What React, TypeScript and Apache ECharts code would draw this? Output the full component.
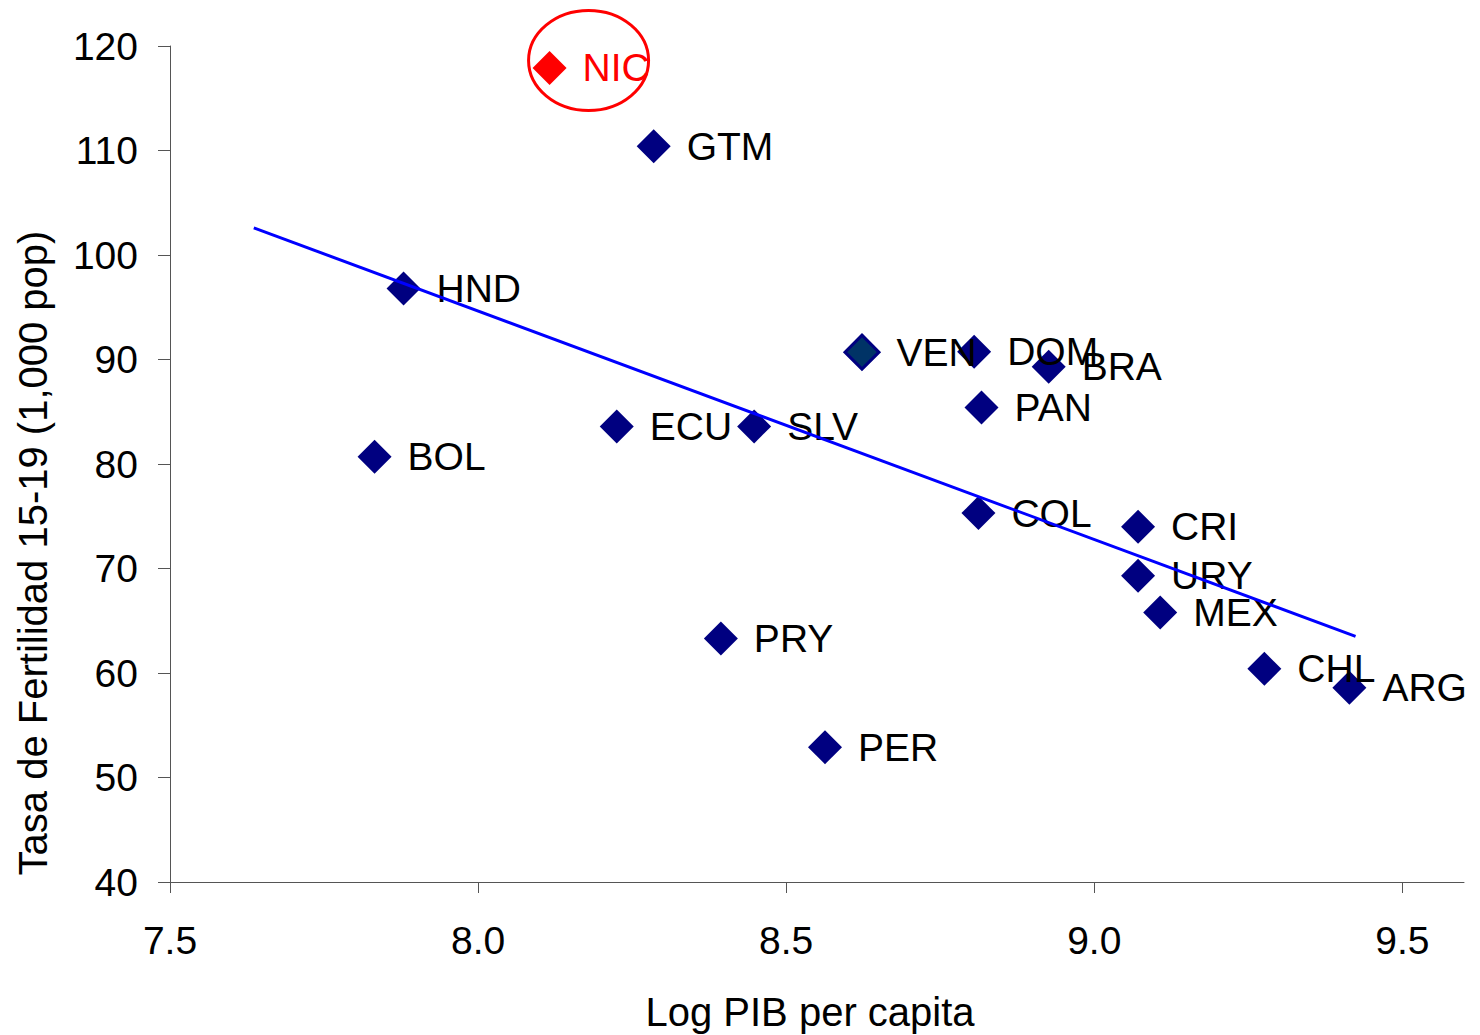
import React, { useEffect, useRef } from "react";
import * as echarts from "echarts";

const countries = ["NIC", "GTM", "HND", "BOL", "ECU", "SLV", "VEN", "DOM", "BRA", "PAN", "COL", "CRI", "URY", "MEX", "PRY", "CHL", "ARG", "PER"];
const logGdp = [8.116, 8.285, 7.879, 7.832, 8.225, 8.448, 8.623, 8.805, 8.926, 8.817, 8.812, 9.071, 9.071, 9.107, 8.394, 9.276, 9.414, 8.563];
const fertility = [117.9, 110.4, 96.8, 80.7, 83.6, 83.6, 90.7, 90.75, 89.3, 85.4, 75.3, 74.0, 69.3, 65.8, 63.3, 60.4, 58.6, 52.9];

const trendX = [7.636, 9.424];
const trendY = [102.6, 63.5];

const xTicks = [7.5, 8.0, 8.5, 9.0, 9.5];
const highlighted = "NIC";
const tealFilled = "VEN";

const FONT = "'Liberation Sans', Arial, sans-serif";

export default function App() {
  const ref = useRef<HTMLDivElement>(null);

  useEffect(() => {
    if (!ref.current) return;
    const chart = echarts.init(ref.current, null, { renderer: "svg" });

    const scatterData = countries.map((name, i) => {
      const item: any = { name, value: [logGdp[i], fertility[i]] };
      if (name === highlighted) {
        item.itemStyle = { color: "#FF0000" };
        item.label = { color: "#FF0000" };
      } else if (name === tealFilled) {
        item.itemStyle = { color: "#003366", borderColor: "#000080", borderWidth: 3 };
      }
      return item;
    });

    const axisLineStyle = { color: "#555555", width: 1 };

    chart.setOption({
      animation: false,
      backgroundColor: "#ffffff",
      grid: { left: 170, top: 46, right: 16, bottom: 153 },
      xAxis: {
        type: "value",
        min: 7.5,
        max: 9.6,
        interval: 0.5,
        axisLine: { show: true, onZero: false, lineStyle: axisLineStyle },
        axisTick: { show: true, length: 11, lineStyle: axisLineStyle, customValues: xTicks },
        axisLabel: {
          customValues: xTicks,
          margin: 39,
          fontSize: 39,
          fontFamily: FONT,
          color: "#000000",
          formatter: (v: number) => v.toFixed(1),
        },
        splitLine: { show: false },
      },
      yAxis: {
        type: "value",
        min: 40,
        max: 120,
        interval: 10,
        axisLine: { show: true, onZero: false, lineStyle: axisLineStyle },
        axisTick: { show: true, length: 12, lineStyle: axisLineStyle },
        axisLabel: {
          margin: 32,
          fontSize: 39,
          fontFamily: FONT,
          color: "#000000",
        },
        splitLine: { show: false },
      },
      series: [
        {
          type: "line",
          data: trendX.map((x, i) => [x, trendY[i]]),
          showSymbol: false,
          symbol: "none",
          lineStyle: { color: "#0000FF", width: 3 },
          z: 3,
          silent: true,
        },
        {
          type: "scatter",
          symbol: "diamond",
          symbolSize: 34,
          itemStyle: { color: "#000080", opacity: 1 },
          label: {
            show: true,
            position: "right",
            distance: 16,
            formatter: "{b}",
            fontSize: 39,
            fontFamily: FONT,
            color: "#000000",
            opacity: 1,
          },
          data: scatterData,
          z: 2,
        },
      ],
    });

    const idx = countries.indexOf(highlighted);
    const p = chart.convertToPixel({ gridIndex: 0 }, [logGdp[idx], fertility[idx]]) as number[];

    chart.setOption({
      graphic: [
        {
          type: "ellipse",
          shape: { cx: p[0] + 39, cy: p[1] - 7.5, rx: 60, ry: 50 },
          style: { fill: "none", stroke: "#FF0000", lineWidth: 3 },
          z: 10,
          silent: true,
        },
        {
          type: "text",
          x: 33,
          y: 553,
          rotation: Math.PI / 2,
          style: {
            text: "Tasa de Fertilidad 15-19 (1,000 pop)",
            fontSize: 40,
            fontFamily: FONT,
            fill: "#000000",
            align: "center",
            verticalAlign: "middle",
          },
        },
        {
          type: "text",
          x: 810,
          y: 1012,
          style: {
            text: "Log PIB per capita",
            fontSize: 40,
            fontFamily: FONT,
            fill: "#000000",
            align: "center",
            verticalAlign: "middle",
          },
        },
      ],
    });

    return () => chart.dispose();
  }, []);

  return (
    <div
      ref={ref}
      style={{ position: "fixed", left: 0, top: 0, width: 1480, height: 1035, background: "#fff" }}
    />
  );
}
